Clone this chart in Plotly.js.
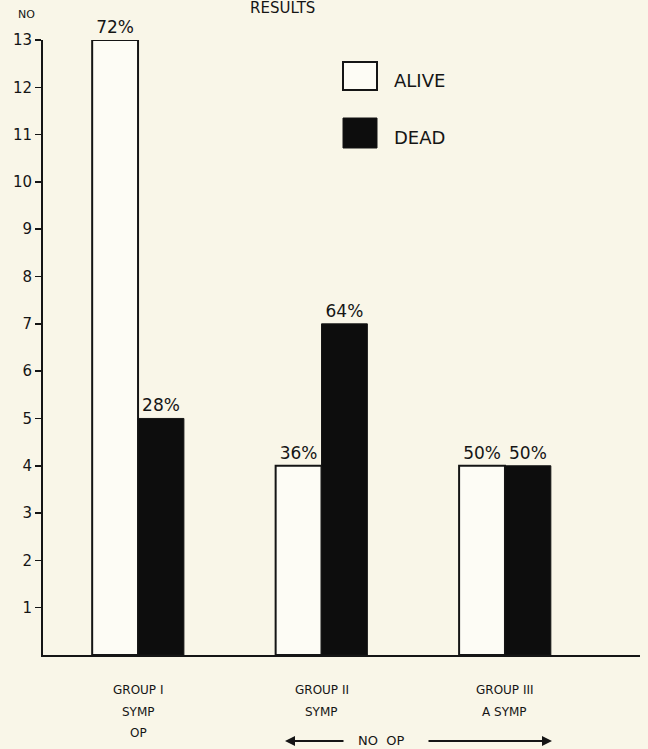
<!DOCTYPE html>
<html>
<head>
<meta charset="utf-8">
<script src="https://cdn.plot.ly/plotly-3.0.1.min.js"></script>
<style>
html,body{margin:0;padding:0;background:#f9f6e8;}
#chart{width:648px;height:749px;}
</style>
</head>
<body>
<div id="chart"></div>
<script>
// ---- data ----
const groups = [0, 1, 2];
const groupLines = [
  ["GROUP I", "SYMP", "OP"],
  ["GROUP II", "SYMP"],
  ["GROUP III", "A SYMP"]
];
const aliveCounts = [13, 4, 4];
const deadCounts = [5, 7, 4];
const alivePct = ["72%", "36%", "50%"];
const deadPct = ["28%", "64%", "50%"];
const yTicks = [1,2,3,4,5,6,7,8,9,10,11,12,13];
const seriesNames = ["ALIVE", "DEAD"];

// ---- style ----
const BG = "#f9f6e8";
const INK = "#151515";
const FONT = "DejaVu Sans, Liberation Sans, Arial, sans-serif";
const W = 648, H = 749;
const M = {l: 43, r: 8, t: 40, b: 94};
const pw = W - M.l - M.r, ph = H - M.t - M.b;
const px = p => (p - M.l) / pw;          // pixel x -> paper x
const py = p => (H - M.b - p) / ph;      // pixel y -> paper y

const traces = [
  {
    type: "bar", name: seriesNames[0], x: groups, y: aliveCounts,
    text: alivePct, textposition: "outside", cliponaxis: false,
    textfont: {family: FONT, size: 17, color: INK},
    marker: {color: "#fdfcf5", line: {color: INK, width: 2}},
    hoverinfo: "skip"
  },
  {
    type: "bar", name: seriesNames[1], x: groups, y: deadCounts,
    text: deadPct, textposition: "outside", cliponaxis: false,
    textfont: {family: FONT, size: 17, color: INK},
    marker: {color: "#0d0d0d", line: {color: INK, width: 1}},
    hoverinfo: "skip"
  }
];

const annotations = [];
const lineY = [690, 712, 733];
groupLines.forEach((lines, gi) => {
  lines.forEach((t, li) => {
    annotations.push({
      x: groups[gi], xref: "x", y: py(lineY[li]), yref: "paper",
      text: t, showarrow: false, xanchor: "center", yanchor: "middle",
      font: {family: FONT, size: 12, color: INK}
    });
  });
});
// NO OP with arrows
annotations.push({x: px(381), xref: "paper", y: py(740), yref: "paper", text: "NO  OP",
  showarrow: false, xanchor: "center", yanchor: "middle", font: {family: FONT, size: 13, color: INK}});
annotations.push({x: px(285), xref: "paper", y: py(741), yref: "paper", text: "",
  showarrow: true, ax: 60, ay: 0, arrowhead: 2, arrowsize: 1, arrowwidth: 2, arrowcolor: INK});
annotations.push({x: px(552), xref: "paper", y: py(741), yref: "paper", text: "",
  showarrow: true, ax: -125, ay: 0, arrowhead: 2, arrowsize: 1, arrowwidth: 2, arrowcolor: INK});
// title & axis label
annotations.push({x: px(282), xref: "paper", y: py(8), yref: "paper", text: "RESULTS",
  showarrow: false, xanchor: "center", yanchor: "middle", font: {family: FONT, size: 15, color: INK}});
annotations.push({x: px(26), xref: "paper", y: py(14), yref: "paper", text: "NO",
  showarrow: false, xanchor: "center", yanchor: "middle", font: {family: FONT, size: 11, color: INK}});
// legend labels
annotations.push({x: px(392), xref: "paper", y: py(80), yref: "paper", text: seriesNames[0],
  showarrow: false, xanchor: "left", yanchor: "middle", font: {family: FONT, size: 18, color: INK}});
annotations.push({x: px(392), xref: "paper", y: py(137), yref: "paper", text: seriesNames[1],
  showarrow: false, xanchor: "left", yanchor: "middle", font: {family: FONT, size: 18, color: INK}});

const shapes = [
  {type: "rect", xref: "paper", yref: "paper", x0: px(343), x1: px(377), y0: py(62), y1: py(90),
   line: {color: INK, width: 2}, fillcolor: "#fdfcf5"},
  {type: "rect", xref: "paper", yref: "paper", x0: px(343), x1: px(377), y0: py(118), y1: py(148),
   line: {color: INK, width: 1}, fillcolor: "#0d0d0d"}
];

const layout = {
  width: W, height: H,
  margin: M,
  paper_bgcolor: BG, plot_bgcolor: BG,
  showlegend: false,
  barmode: "group", bargap: 0.5, bargroupgap: 0,
  font: {family: FONT, color: INK},
  xaxis: {
    range: [-0.518, 2.736], showgrid: false, zeroline: false,
    showline: true, linecolor: INK, linewidth: 2,
    showticklabels: false, ticks: "", fixedrange: true
  },
  yaxis: {
    range: [0, 13], showgrid: false, zeroline: false,
    showline: true, linecolor: INK, linewidth: 2,
    tickvals: yTicks, ticktext: yTicks.map(String),
    ticks: "outside", ticklen: 6, tickwidth: 1.5, tickcolor: INK,
    tickfont: {family: FONT, size: 15, color: INK}, fixedrange: true
  },
  annotations: annotations,
  shapes: shapes
};

Plotly.newPlot("chart", traces, layout, {staticPlot: true});
</script>
</body>
</html>
